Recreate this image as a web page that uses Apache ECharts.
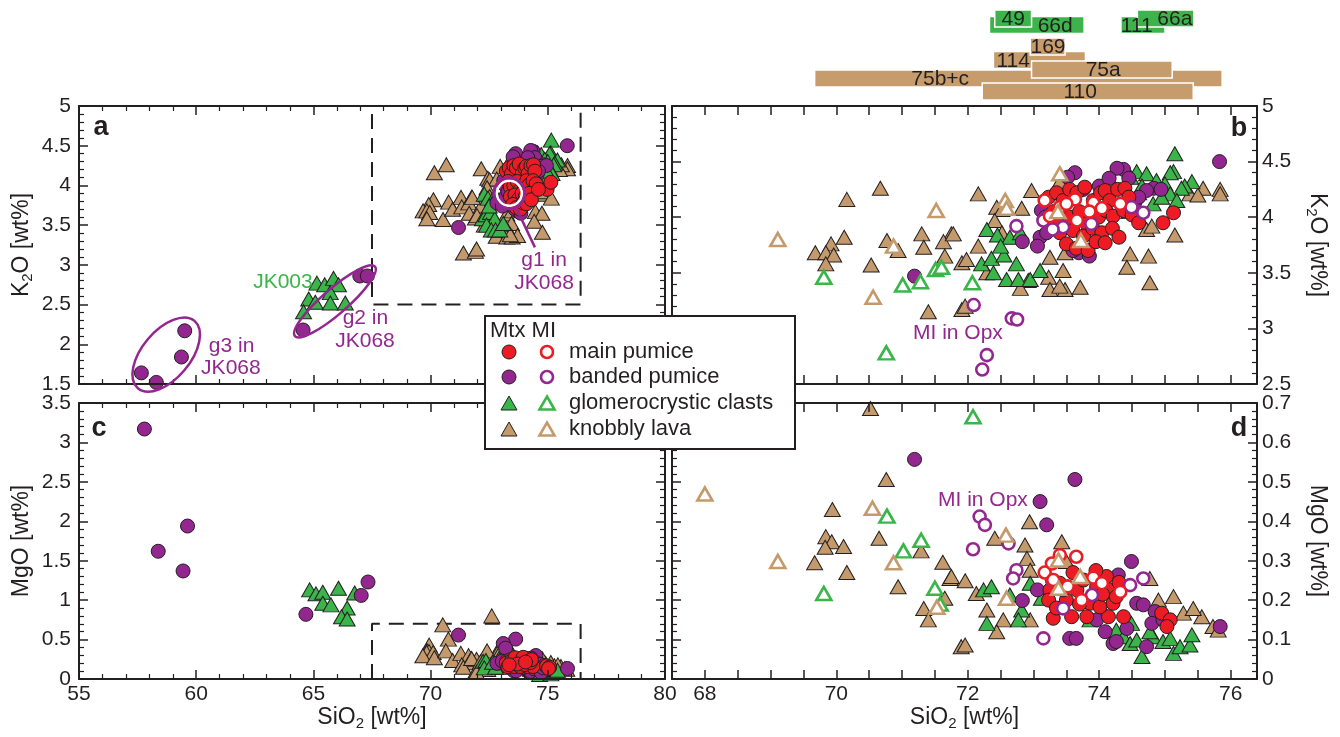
<!DOCTYPE html>
<html><head><meta charset="utf-8">
<script src="https://cdn.jsdelivr.net/npm/echarts@6/dist/echarts.min.js"></script>
<style>html,body{margin:0;padding:0;background:#fff}#c{width:1340px;height:737px}</style>
</head><body><div id="c"></div>
<script>
// ---------------- DATA ----------------
// Panel a/b: [SiO2, K2O] ; panel c/d: [SiO2, MgO]
const mainK = [[73.23,4.18],[73.35,4.22],[73.45,4.15],[73.55,4.25],[73.66,4.22],[73.78,4.27],[73.91,4.15],[74.02,4.22],[74.09,4.24],[74.16,4.15],[74.28,4.25],[74.39,4.26],[74.45,4.18],[73.30,4.05],[73.40,3.98],[73.55,4.00],[73.70,4.05],[73.81,3.94],[73.99,4.00],[74.10,4.06],[74.21,4.01],[74.37,4.06],[74.50,4.02],[73.40,3.86],[73.60,3.88],[73.76,3.83],[73.90,3.90],[74.04,3.86],[74.20,3.90],[73.50,3.76],[73.65,3.72],[73.83,3.70],[73.95,3.78],[74.09,3.77],[74.30,3.82],[74.97,3.95],[75.13,4.04],[74.60,3.95]];
const bandedK = [[75.83,4.50],[73.63,4.40],[73.52,4.36],[74.37,4.43],[74.27,4.44],[74.45,4.35],[74.83,4.26],[74.72,4.24],[74.94,4.25],[74.54,4.13],[74.60,4.18],[73.12,4.06],[73.18,4.00],[73.10,3.82],[72.83,3.78],[73.06,3.74],[73.20,3.86],[73.69,3.68],[73.60,3.70],[73.76,4.25],[74.00,4.28],[73.30,3.92],[71.19,3.47],[73.85,3.65],[74.15,4.35],
  [57.66,1.64],[58.30,1.52],[59.51,2.17],[59.37,1.84],[64.56,2.18],[66.98,2.86],[67.30,2.86]];
const glomeroK = [[75.15,4.57],[75.13,4.41],[75.08,4.40],[74.57,4.41],[74.72,4.39],[74.48,4.36],[74.87,4.33],[75.00,4.30],[75.41,4.32],[75.30,4.28],[75.25,4.26],[75.08,4.21],[75.18,4.15],[74.82,4.12],[74.95,4.18],[74.65,4.28],[72.29,3.89],[72.45,3.84],[72.64,3.82],[72.80,3.86],[72.21,3.58],[72.36,3.63],[72.55,3.66],[72.74,3.58],[72.39,3.50],[72.59,3.44],[72.77,3.44],[72.95,3.44],[72.50,3.74],[73.10,3.52],[74.45,4.05],
  [65.15,2.77],[65.48,2.75],[65.86,2.83],[66.07,2.75],[65.72,2.65],[64.80,2.57],[65.08,2.53],[65.72,2.52],[66.36,2.52],[64.58,2.41]];
const knobblyK = [[70.67,4.26],[70.16,4.16],[70.12,3.82],[69.92,3.76],[69.68,3.68],[69.84,3.68],[69.96,3.66],[69.84,3.58],[70.53,3.57],[70.77,3.79],[70.94,3.70],[71.30,3.85],[71.33,3.73],[71.75,3.85],[71.63,3.78],[71.65,3.65],[71.40,3.15],[71.91,3.59],[71.91,3.17],
  [72.16,4.21],[72.97,4.24],[72.44,4.09],[72.52,4.07],[72.82,4.08],[72.41,3.97],[72.16,3.74],[71.78,3.85],[72.52,3.86],[71.98,3.62],[72.29,3.50],[73.25,3.64],[73.48,3.68],[73.45,3.52],[73.23,3.46],[72.92,3.43],[72.80,3.36],[73.25,3.35],[73.48,3.35],[73.71,3.37],[73.40,3.38],[74.47,3.67],[74.75,3.65],[74.42,3.55],[74.77,3.41],[74.72,3.89],[74.80,3.92],[75.15,3.84],[75.84,4.25],[75.84,4.21],[75.58,4.26],[75.38,4.21],[75.50,4.20],[74.20,4.30],[74.60,4.22],[71.96,3.20],[73.40,4.32]];
// melt inclusions (K2O)
const mainMIK = [[73.17,4.15],[73.25,4.01],[73.40,4.09],[73.63,4.16],[73.91,4.13],[74.04,4.08],[74.32,4.12],[73.66,3.97],[73.50,4.12],[73.85,4.05]];
const bandedMIK = [[74.67,4.04],[74.49,4.09],[73.88,3.94],[73.45,3.91],[73.29,3.89],[73.15,3.97],[72.74,3.92],[72.09,3.21],[72.67,3.09],[72.75,3.08],[72.29,2.76],[72.22,2.63]];
const glomeroMIK = [[69.81,3.46],[71.01,3.39],[71.28,3.42],[71.51,3.53],[71.60,3.55],[70.76,2.78],[72.07,3.41]];
const knobblyMIK = [[69.11,3.80],[70.87,3.74],[70.56,3.28],[71.52,4.06],[73.40,4.39],[72.57,4.15],[72.59,4.08],[73.37,4.05],[73.72,3.79]];

const mainMg = [[73.25,0.226],[73.40,0.243],[73.23,0.200],[73.30,0.154],[73.58,0.158],[73.66,0.226],[73.86,0.192],[73.96,0.234],[74.11,0.260],[74.16,0.226],[74.21,0.192],[74.14,0.158],[74.37,0.158],[73.81,0.158],[74.95,0.167],[75.08,0.150],[75.03,0.133],[73.50,0.200],[73.76,0.251],[74.01,0.183],[73.45,0.226],[74.26,0.209],[73.60,0.270],[73.95,0.275],[74.30,0.245],[73.70,0.190],[74.05,0.215],[73.35,0.180]];
const bandedMg = [[71.19,0.557],[73.63,0.506],[73.10,0.450],[73.20,0.391],[74.49,0.298],[74.29,0.264],[72.83,0.199],[73.06,0.226],[73.55,0.103],[73.65,0.103],[74.09,0.120],[74.21,0.090],[74.26,0.095],[74.42,0.128],[74.57,0.192],[74.67,0.188],[74.72,0.082],[74.85,0.171],[74.80,0.141],[74.97,0.150],[75.84,0.133],[73.96,0.150],
  [57.79,3.17],[58.38,1.62],[59.63,1.94],[59.44,1.37],[64.68,0.82],[67.04,1.06],[67.33,1.23]];
const glomeroMg = [[72.24,0.226],[72.36,0.234],[72.29,0.141],[72.82,0.175],[72.77,0.150],[72.95,0.243],[72.64,0.213],[73.86,0.150],[74.26,0.124],[74.37,0.107],[74.47,0.090],[74.65,0.057],[74.82,0.107],[74.97,0.095],[75.08,0.103],[75.13,0.065],[75.23,0.082],[75.38,0.086],[75.41,0.112],[74.57,0.099],[73.12,0.205],[74.06,0.175],[74.77,0.120],[74.49,0.141],
  [64.84,1.13],[65.11,1.08],[65.40,1.10],[66.07,1.15],[65.40,0.96],[65.75,0.94],[66.44,0.90],[66.20,0.79],[66.44,0.76],[66.76,1.09]];
const knobblyMg = [[70.52,0.686],[70.76,0.506],[69.94,0.430],[69.84,0.361],[69.93,0.348],[69.83,0.334],[70.11,0.336],[69.67,0.295],[70.16,0.270],[70.65,0.357],[70.94,0.234],[71.29,0.325],[71.62,0.296],[71.73,0.255],[71.65,0.205],[71.33,0.179],[71.40,0.150],[71.90,0.082],
  [72.94,0.399],[73.43,0.348],[72.87,0.340],[72.90,0.306],[72.41,0.357],[72.95,0.276],[71.96,0.249],[71.75,0.260],[72.13,0.217],[72.29,0.175],[72.54,0.150],[72.44,0.120],[72.95,0.150],[71.96,0.086],[74.90,0.200],[75.13,0.209],[75.28,0.167],[75.56,0.158],[75.43,0.179],[75.73,0.133],[75.81,0.124],[74.77,0.255],[73.50,0.298],[72.61,0.80]];
const mainMIMg = [[73.40,0.314],[73.65,0.310],[73.28,0.293],[73.17,0.270],[73.30,0.251],[73.91,0.257],[74.04,0.243],[74.32,0.221],[73.73,0.200],[73.52,0.235]];
const bandedMIMg = [[72.18,0.412],[72.26,0.391],[72.08,0.329],[72.62,0.344],[72.74,0.276],[72.69,0.255],[73.28,0.251],[73.45,0.179],[73.89,0.213],[74.47,0.238],[74.67,0.255],[73.15,0.103]];
const glomeroMIMg = [[69.81,0.217],[70.77,0.413],[71.02,0.325],[71.29,0.352],[71.50,0.230],[71.58,0.190],[72.08,0.665]];
const knobblyMIMg = [[68.00,0.469],[69.11,0.298],[70.55,0.433],[70.87,0.295],[71.53,0.182],[72.58,0.365],[73.38,0.302],[73.71,0.260],[73.38,0.230],[72.59,0.205]];

// SiO2 ranges of individual samples (top bars)
const rangeNames = ['75b+c','110','114','75a','169','66d','49','111','66a'];
const rangeMin   = [69.67, 72.22, 72.39, 72.97, 72.95, 72.33, 72.41, 74.33, 74.58];
const rangeMax   = [75.87, 75.43, 73.79, 75.11, 73.48, 73.77, 72.97, 75.00, 75.44];
const rangeType  = ['lava','lava','lava','lava','lava','glomero','glomero','glomero','glomero'];
const rangeLevel = [0.76, 0, 1.85, 1.29, 2.65, 3.91, 4.29, 3.91, 4.29];
const rangeLabelAt = [71.58, 73.71, 72.69, 74.06, 73.22, 73.33, 72.69, 74.57, 75.15];

// axis ranges
const XA = [55, 80], XB = [67.5, 76.4];
const YA = [1.5, 5], YB = [2.5, 5], YC = [0, 3.5], YD = [0, 0.7];

// ---------------- STYLE ----------------
const FONT = '"Liberation Sans", Arial, Helvetica, sans-serif';
const INK = '#231f20';
const RED = '#ED1C24', PURPLE = '#93278F', GREEN = '#39B54A', TAN = '#C49A6C';
const BAR_TAN = '#C69C6D', BAR_GREEN = '#3CB44B';

const chart = echarts.init(document.getElementById('c'), null, {renderer: 'canvas', width: 1340, height: 737});

const grids = [
  {left: 79, top: 106, width: 586, height: 278},
  {left: 672, top: 106, width: 585, height: 278},
  {left: 79, top: 403, width: 586, height: 276},
  {left: 672, top: 403, width: 585, height: 276},
  {left: 672, top: 6.5, width: 585, height: 93.5}
];

const nameRich = {
  t: {fontSize: 23, lineHeight: 26, fontFamily: FONT, color: INK},
  s: {fontSize: 15, lineHeight: 12, verticalAlign: 'bottom', fontFamily: FONT, color: INK}
};
function mkAxis(o) {
  const ax = {
    type: 'value', gridIndex: o.grid, position: o.pos, min: o.min, max: o.max, interval: o.interval,
    splitLine: {show: false}, minorSplitLine: {show: false},
    axisLine: {show: true, onZero: false, lineStyle: {color: INK, width: 2}},
    axisTick: {show: true, inside: true, length: 9, lineStyle: {color: INK, width: 1.5}},
    minorTick: {show: !!o.minor, splitNumber: o.minor || 5, length: 5, lineStyle: {color: INK, width: 1.2}},
    axisLabel: {show: !!o.labels, color: INK, fontSize: 21, fontFamily: FONT, margin: o.margin || 7},
    silent: true, z: 5
  };
  if (o.formatter) ax.axisLabel.formatter = o.formatter;
  if (o.name) {
    ax.name = o.name; ax.nameLocation = 'middle'; ax.nameGap = o.nameGap;
    if (o.nameRotate !== undefined) ax.nameRotate = o.nameRotate;
    ax.nameTextStyle = {fontSize: 23, color: INK, fontFamily: FONT, rich: nameRich};
  }
  return ax;
}
const evenFmt = v => {
  const r = Math.round(v);
  return (Math.abs(v - r) < 1e-6 && r % 2 === 0) ? String(r) : '';
};
const K2O = '{t|K}{s|2}{t|O [wt%]}', MGO = '{t|MgO [wt%]}', SIO2 = '{t|SiO}{s|2}{t| [wt%]}';

const xAxes = [
  mkAxis({grid: 0, pos: 'bottom', min: XA[0], max: XA[1], interval: 5, minor: 5}),
  mkAxis({grid: 0, pos: 'top', min: XA[0], max: XA[1], interval: 5, minor: 5}),
  mkAxis({grid: 1, pos: 'bottom', min: XB[0], max: XB[1], interval: 0.5}),
  mkAxis({grid: 1, pos: 'top', min: XB[0], max: XB[1], interval: 0.5}),
  mkAxis({grid: 2, pos: 'bottom', min: XA[0], max: XA[1], interval: 5, minor: 5, labels: true, margin: 5, name: SIO2, nameGap: 26}),
  mkAxis({grid: 2, pos: 'top', min: XA[0], max: XA[1], interval: 5, minor: 5}),
  mkAxis({grid: 3, pos: 'bottom', min: XB[0], max: XB[1], interval: 0.5, labels: true, margin: 5, formatter: evenFmt, name: SIO2, nameGap: 26}),
  mkAxis({grid: 3, pos: 'top', min: XB[0], max: XB[1], interval: 0.5}),
  {type: 'value', gridIndex: 4, min: XB[0], max: XB[1], show: false}
];
const yAxes = [
  mkAxis({grid: 0, pos: 'left', min: YA[0], max: YA[1], interval: 0.5, minor: 5, labels: true, margin: 8, name: K2O, nameGap: 44, nameRotate: 90}),
  mkAxis({grid: 0, pos: 'right', min: YA[0], max: YA[1], interval: 0.5, minor: 5}),
  mkAxis({grid: 1, pos: 'left', min: YB[0], max: YB[1], interval: 0.5, minor: 5}),
  mkAxis({grid: 1, pos: 'right', min: YB[0], max: YB[1], interval: 0.5, minor: 5, labels: true, margin: 5, name: K2O, nameGap: 47, nameRotate: -90}),
  mkAxis({grid: 2, pos: 'left', min: YC[0], max: YC[1], interval: 0.5, minor: 5, labels: true, margin: 8, name: MGO, nameGap: 44, nameRotate: 90}),
  mkAxis({grid: 2, pos: 'right', min: YC[0], max: YC[1], interval: 0.5, minor: 5}),
  mkAxis({grid: 3, pos: 'left', min: YD[0], max: YD[1], interval: 0.1, minor: 5}),
  mkAxis({grid: 3, pos: 'right', min: YD[0], max: YD[1], interval: 0.1, minor: 5, labels: true, margin: 5, name: MGO, nameGap: 47, nameRotate: -90}),
  {type: 'value', gridIndex: 4, min: -0.5, max: 5, show: false}
];

// ---------------- SERIES ----------------
const groups = {
  main:    {color: RED,    shape: 'circle',   K: mainK,    Mg: mainMg,    miK: mainMIK,    miMg: mainMIMg},
  banded:  {color: PURPLE, shape: 'circle',   K: bandedK,  Mg: bandedMg,  miK: bandedMIK,  miMg: bandedMIMg},
  glomero: {color: GREEN,  shape: 'triangle', K: glomeroK, Mg: glomeroMg, miK: glomeroMIK, miMg: glomeroMIMg},
  lava:    {color: TAN,    shape: 'triangle', K: knobblyK, Mg: knobblyMg, miK: knobblyMIK, miMg: knobblyMIMg}
};
const mtxOrder = ['lava', 'glomero', 'banded', 'main'];
const miOrder = ['banded', 'main', 'glomero', 'lava'];
const panels = [
  {ax: 0, key: 'K', mi: false},
  {ax: 2, key: 'K', mi: true},
  {ax: 4, key: 'Mg', mi: false},
  {ax: 6, key: 'Mg', mi: true}
];
const series = [];
// dashed boxes showing the range of panels b and d
series.push({type: 'line', xAxisIndex: 0, yAxisIndex: 0, silent: true, symbol: 'none', z: 1,
  data: [[XB[0], YB[1]], [XB[0], YB[0]], [XB[1], YB[0]], [XB[1], YB[1]]],
  lineStyle: {color: INK, width: 2, type: [15, 9], dashOffset: 16}});
series.push({type: 'line', xAxisIndex: 4, yAxisIndex: 4, silent: true, symbol: 'none', z: 1,
  data: [[XB[0], YD[0]], [XB[0], YD[1]], [XB[1], YD[1]], [XB[1], YD[0]]],
  lineStyle: {color: INK, width: 2, type: [15, 9]}});

panels.forEach(p => {
  mtxOrder.forEach(g => {
    const G = groups[g];
    series.push({
      type: 'scatter', xAxisIndex: p.ax, yAxisIndex: p.ax, silent: true, z: 2,
      data: G[p.key], symbol: G.shape,
      symbolSize: G.shape === 'circle' ? 14 : [16, 14],
      itemStyle: {color: G.color, borderColor: INK, borderWidth: 1, opacity: 1}
    });
  });
  if (p.mi) {
    miOrder.forEach(g => {
      const G = groups[g];
      series.push({
        type: 'scatter', xAxisIndex: p.ax, yAxisIndex: p.ax, silent: true, z: 3,
        data: G['mi' + p.key], symbol: G.shape,
        symbolSize: G.shape === 'circle' ? 12 : [15, 13],
        itemStyle: {color: '#ffffff', borderColor: G.color, borderWidth: 2.6, opacity: 1}
      });
    });
  }
});

// range bars
series.push({
  type: 'custom', xAxisIndex: 8, yAxisIndex: 8, silent: true, clip: false, z: 2,
  data: rangeNames.map((n, i) => [rangeMin[i], rangeMax[i], rangeLevel[i], i]),
  renderItem: function (params, api) {
    const i = api.value(3);
    const s = api.coord([api.value(0), api.value(2)]);
    const e = api.coord([api.value(1), api.value(2)]);
    const h = api.size([0, 1])[1];
    return {type: 'rect', shape: {x: s[0], y: s[1] - h / 2, width: e[0] - s[0], height: h},
      style: {fill: rangeType[i] === 'lava' ? BAR_TAN : BAR_GREEN, stroke: '#ffffff', lineWidth: 1.5}};
  }
});
series.push({
  type: 'custom', xAxisIndex: 8, yAxisIndex: 8, silent: true, clip: false, z: 3,
  data: rangeNames.map((n, i) => [rangeLabelAt[i], rangeLevel[i], i]),
  renderItem: function (params, api) {
    const i = api.value(2);
    const c = api.coord([api.value(0), api.value(1)]);
    return {type: 'text', x: c[0], y: c[1] + 1,
      style: {text: rangeNames[i], fill: INK, fontSize: 21, fontFamily: FONT,
        align: 'center', verticalAlign: 'middle', textAlign: 'center', textVerticalAlign: 'middle'}};
  }
});

chart.setOption({
  animation: false,
  backgroundColor: '#ffffff',
  grid: grids,
  xAxis: xAxes,
  yAxis: yAxes,
  series: series
});

// ---------------- ANNOTATIONS / LEGEND ----------------
const pa = pt => chart.convertToPixel({xAxisIndex: 0, yAxisIndex: 0}, pt);
const pb = pt => chart.convertToPixel({xAxisIndex: 2, yAxisIndex: 2}, pt);
const pd = pt => chart.convertToPixel({xAxisIndex: 6, yAxisIndex: 6}, pt);
const gfx = [];
function txt(pt, text, opt) {
  gfx.push({type: 'text', x: pt[0], y: pt[1], z: 60, silent: true,
    style: Object.assign({text: text, fill: INK, font: '21px ' + FONT,
      align: 'center', verticalAlign: 'middle', textAlign: 'center', textVerticalAlign: 'middle'}, opt || {})});
}
// panel letters
txt([101, 128], 'a', {font: 'bold 27px ' + FONT});
txt([1239, 129], 'b', {font: 'bold 27px ' + FONT});
txt([99, 429], 'c', {font: 'bold 27px ' + FONT});
txt([1239, 429], 'd', {font: 'bold 27px ' + FONT});

// panel a annotations
const g1c = pa([73.36, 3.90]);
gfx.push({type: 'circle', z: 55, silent: true, shape: {cx: g1c[0], cy: g1c[1], r: 12.5}, style: {fill: 'none', stroke: '#ffffff', lineWidth: 2.5}});
gfx.push({type: 'circle', z: 56, silent: true, shape: {cx: g1c[0], cy: g1c[1], r: 15.5}, style: {fill: 'none', stroke: PURPLE, lineWidth: 3}});
const g1t = pa([74.45, 3.22]);
const ang = Math.atan2(g1t[1] - g1c[1], g1t[0] - g1c[0]);
gfx.push({type: 'line', z: 56, silent: true, shape: {x1: g1c[0] + 15.5 * Math.cos(ang), y1: g1c[1] + 15.5 * Math.sin(ang), x2: g1t[0], y2: g1t[1]}, style: {stroke: PURPLE, lineWidth: 2.5}});
txt(pa([74.84, 3.06]), 'g1 in', {fill: PURPLE});
txt(pa([74.84, 2.77]), 'JK068', {fill: PURPLE});
txt(pa([63.70, 2.78]), 'JK003', {fill: GREEN});
const g2c = pa([65.92, 2.54]);
gfx.push({type: 'ellipse', z: 55, silent: true, x: g2c[0], y: g2c[1], rotation: 41 * Math.PI / 180, shape: {cx: 0, cy: 0, rx: 53, ry: 12.5}, style: {fill: 'none', stroke: PURPLE, lineWidth: 2.5}});
txt(pa([67.22, 2.33]), 'g2 in', {fill: PURPLE});
txt(pa([67.20, 2.04]), 'JK068', {fill: PURPLE});
const g3c = pa([58.72, 1.87]);
gfx.push({type: 'ellipse', z: 55, silent: true, x: g3c[0], y: g3c[1], rotation: 50 * Math.PI / 180, shape: {cx: 0, cy: 0, rx: 44, ry: 24}, style: {fill: 'none', stroke: PURPLE, lineWidth: 2.5}});
txt(pa([61.51, 1.98]), 'g3 in', {fill: PURPLE});
txt(pa([61.48, 1.70]), 'JK068', {fill: PURPLE});
txt(pb([71.85, 2.96]), 'MI in Opx', {fill: PURPLE});
txt(pd([72.23, 0.454]), 'MI in Opx', {fill: PURPLE});

// legend
const LX = 485, LY = 316;
gfx.push({type: 'rect', z: 80, silent: true, shape: {x: LX, y: LY, width: 310, height: 133}, style: {fill: '#ffffff', stroke: INK, lineWidth: 2}});
txt([490, 331], 'Mtx MI', {font: '22px ' + FONT, align: 'left', textAlign: 'left'});
const legendRows = [
  {label: 'main pumice', g: 'main'},
  {label: 'banded pumice', g: 'banded'},
  {label: 'glomerocrystic clasts', g: 'glomero'},
  {label: 'knobbly lava', g: 'lava'}
];
const rowY = [352, 377, 403, 429];
legendRows.forEach((r, i) => {
  const G = groups[r.g], y = rowY[i];
  if (G.shape === 'circle') {
    gfx.push({type: 'circle', z: 81, silent: true, shape: {cx: 509, cy: y, r: 7}, style: {fill: G.color, stroke: INK, lineWidth: 1}});
    gfx.push({type: 'circle', z: 81, silent: true, shape: {cx: 547, cy: y, r: 6}, style: {fill: '#ffffff', stroke: G.color, lineWidth: 2.6}});
  } else {
    gfx.push({type: 'polygon', z: 81, silent: true, shape: {points: [[509, y - 7], [517, y + 7], [501, y + 7]]}, style: {fill: G.color, stroke: INK, lineWidth: 1}});
    gfx.push({type: 'polygon', z: 81, silent: true, shape: {points: [[547, y - 6.5], [554.5, y + 6.5], [539.5, y + 6.5]]}, style: {fill: '#ffffff', stroke: G.color, lineWidth: 2.6}});
  }
  txt([569, y], r.label, {font: '22px ' + FONT, align: 'left', textAlign: 'left'});
});
gfx.forEach(g => { if (g.type === 'text' && g.x >= 485 && g.x <= 795 && g.y >= 316 && g.y <= 449) g.z = 82; });

chart.setOption({graphic: {elements: gfx}});
</script></body></html>
